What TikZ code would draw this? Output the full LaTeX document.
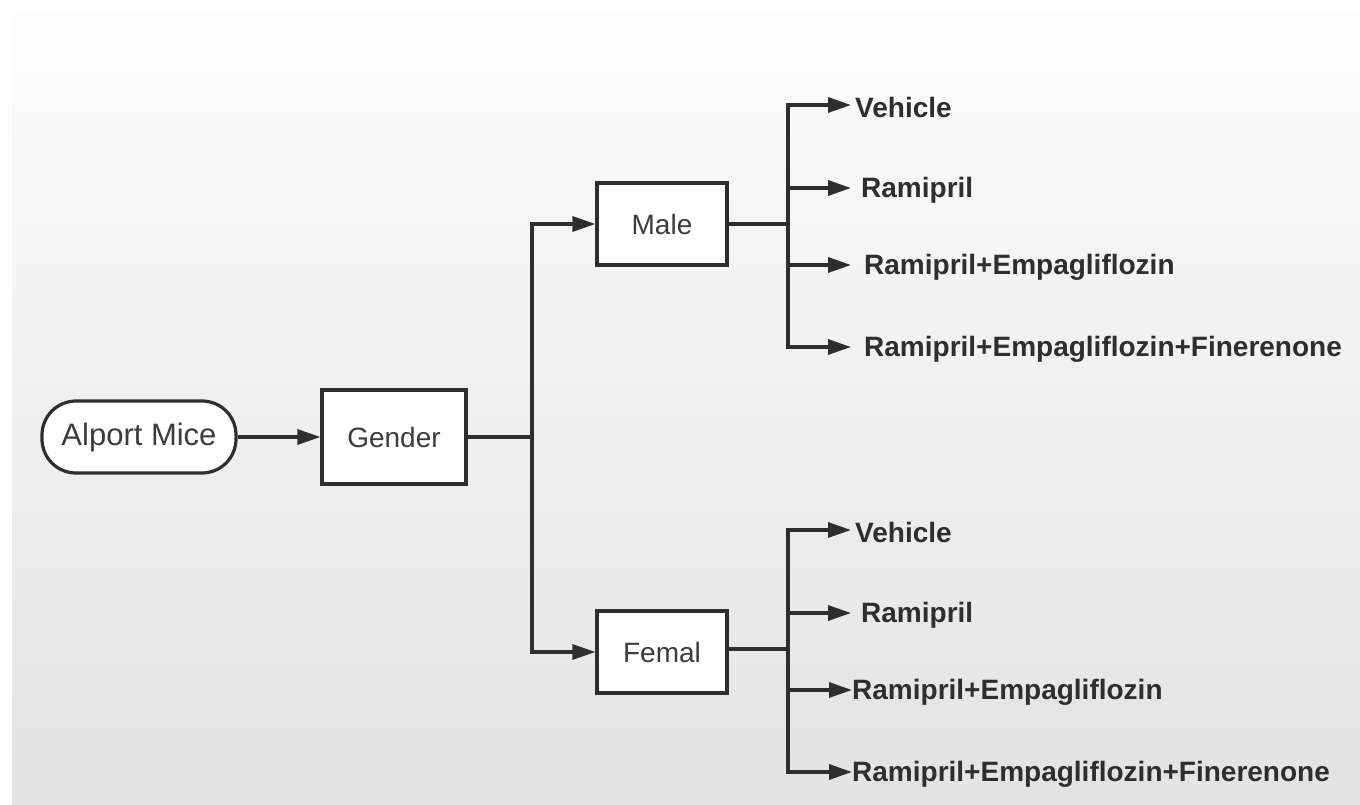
\documentclass[tikz,border=0pt]{standalone}
\usepackage{fontspec}
\setmainfont{Liberation Sans}
\usetikzlibrary{arrows.meta}
\definecolor{ink}{HTML}{2E2E2E}
\definecolor{txt}{HTML}{3C3C3C}
\tikzset{
  box/.style={draw=ink, line width=3.2pt, fill=white, inner sep=0pt, text=txt, font=\fontsize{28}{32}\selectfont},
  lbl/.style={anchor=west, inner sep=0pt, text=ink, font=\bfseries\fontsize{28}{32}\selectfont},
  conn/.style={draw=ink, line width=3.2pt},
  arr/.style={conn, -{Triangle[length=23pt,width=15pt]}},
}
\begin{document}
\begin{tikzpicture}[x=1pt,y=-1pt]
\useasboundingbox (0,0) rectangle (1360,805);
\fill[white] (0,0) rectangle (1360,805);
\shade[top color=white!99!black, bottom color=black!11] (12,14) rectangle (1360,805);

\node[box, rounded corners=34pt, minimum width=194pt, minimum height=72pt, font=\fontsize{31}{35}\selectfont] (alport) at (139,437) {Alport Mice};
\node[box, minimum width=144pt, minimum height=94pt] (gender) at (394,437) {Gender};
\node[box, minimum width=130pt, minimum height=82pt] (male) at (662,224) {Male};
\node[box, minimum width=130pt, minimum height=82pt] (femal) at (662,652) {Femal};

\coordinate (gj) at (532,437);
\coordinate (mj) at (788,224);
\coordinate (fj) at (788,649);

% male labels
\node[lbl] (m1) at (855,107) {Vehicle};
\node[lbl] (m2) at (861,190) {Ramipril};
\node[lbl] (m3) at (864,267) {Ramipril+Empagliflozin};
\node[lbl] (m4) at (864,349) {Ramipril+Empagliflozin+Finerenone};
% female labels
\node[lbl] (f1) at (855,532) {Vehicle};
\node[lbl] (f2) at (861,615) {Ramipril};
\node[lbl] (f3) at (852,692) {Ramipril+Empagliflozin};
\node[lbl] (f4) at (852,774) {Ramipril+Empagliflozin+Finerenone};

\draw[arr] (alport.east) -- (gender.west);
\draw[conn] (gender.east) -- (gj);
\draw[arr] (gj) |- (male.west);
\draw[arr] (gj) |- (femal.west);

\draw[conn] (male.east) -- (mj);
\draw[arr, shorten >=4pt] (mj) |- ([yshift=2pt]m1.west);
\draw[arr, shorten >=10pt] (mj) |- ([yshift=2pt]m2.west);
\draw[arr, shorten >=13pt] (mj) |- ([yshift=2pt]m3.west);
\draw[arr, shorten >=13pt] (mj) |- ([yshift=2pt]m4.west);

\draw[conn] (femal.east |- fj) -- (fj);
\draw[arr, shorten >=4pt] (fj) |- ([yshift=2pt]f1.west);
\draw[arr, shorten >=10pt] (fj) |- ([yshift=2pt]f2.west);
\draw[arr, shorten >=0pt] (fj) |- ([yshift=2pt]f3.west);
\draw[arr, shorten >=0pt] (fj) |- ([yshift=2pt]f4.west);
\end{tikzpicture}
\end{document}
